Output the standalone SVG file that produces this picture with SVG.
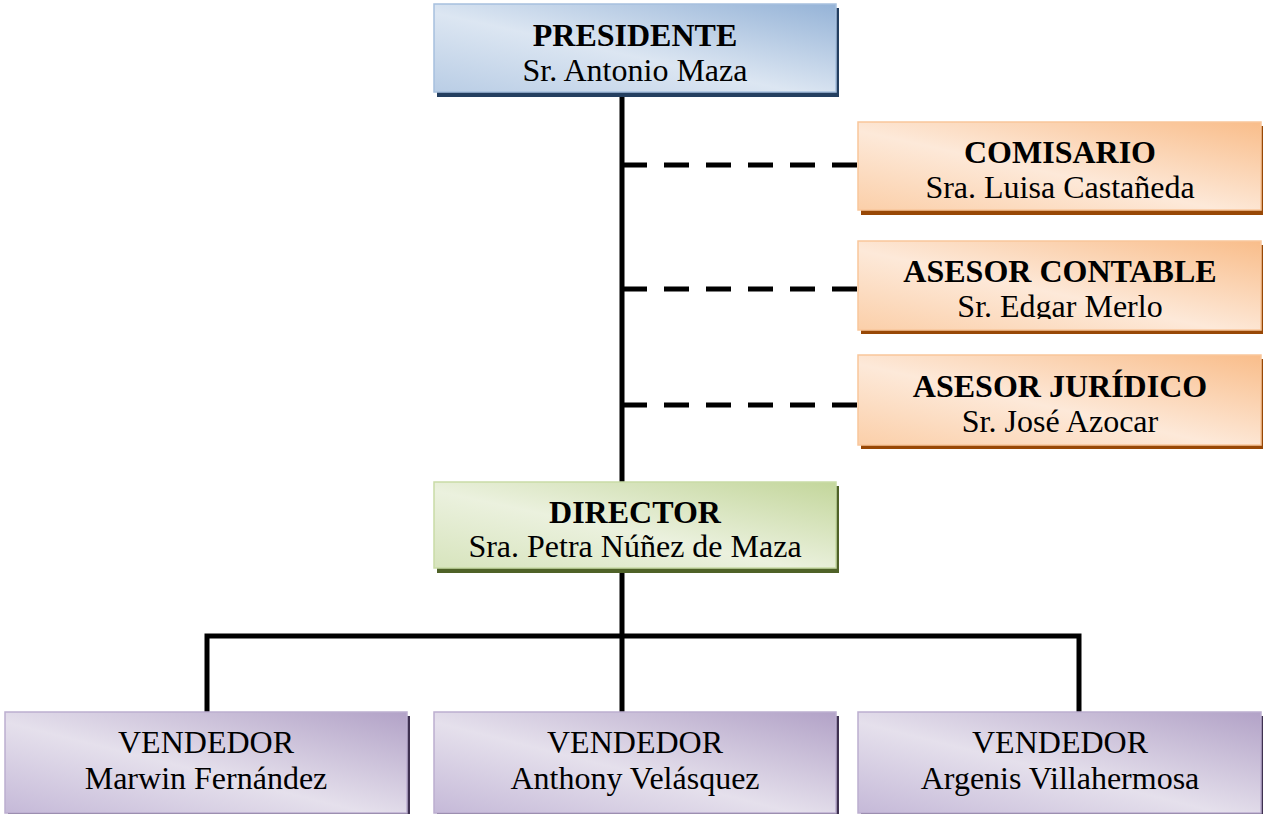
<svg xmlns="http://www.w3.org/2000/svg" width="1263" height="814" viewBox="0 0 1263 814">
<defs>
<linearGradient id="gBlue" x1="0" y1="1" x2="1" y2="0">
<stop offset="0" stop-color="#b9cde5"/><stop offset="0.45" stop-color="#dce6f2"/><stop offset="1" stop-color="#95b3d7"/>
</linearGradient>
<linearGradient id="gOrange" x1="0" y1="1" x2="1" y2="0">
<stop offset="0" stop-color="#fbcfa9"/><stop offset="0.45" stop-color="#fde9d9"/><stop offset="1" stop-color="#f9bd8a"/>
</linearGradient>
<linearGradient id="gGreen" x1="0" y1="1" x2="1" y2="0">
<stop offset="0" stop-color="#d7e4bd"/><stop offset="0.45" stop-color="#ebf1de"/><stop offset="1" stop-color="#c3d69b"/>
</linearGradient>
<linearGradient id="gPurple" x1="0" y1="1" x2="1" y2="0">
<stop offset="0" stop-color="#c5b9d8"/><stop offset="0.45" stop-color="#e5e0ec"/><stop offset="1" stop-color="#b2a2c7"/>
</linearGradient>
<clipPath id="clipContable"><rect x="858" y="241" width="403" height="78"/></clipPath>
</defs>
<style>
text{font-family:"Liberation Serif","Times New Roman",serif;font-size:32px;text-anchor:middle;fill:#000}
.b{font-weight:bold}
.line{stroke:#000;stroke-width:5;fill:none}
.dash{stroke:#000;stroke-width:5;fill:none;stroke-dasharray:25 17}
.blue{fill:url(#gBlue);stroke:#a7c0de;stroke-width:1.5}
.orange{fill:url(#gOrange);stroke:#f9c69b;stroke-width:1.5}
.green{fill:url(#gGreen);stroke:#c9dba6;stroke-width:1.5}
.purple{fill:url(#gPurple);stroke:#bcaed0;stroke-width:1.5}
.sBlue{fill:#243f60}.sOrange{fill:#984806}.sGreen{fill:#4f6228}.sPurple{fill:#3f3151}
</style>
<g id="connectors">
<path class="line" d="M622 92V482"/>
<path class="dash" d="M622 165H858"/>
<path class="dash" d="M622 289H858"/>
<path class="dash" d="M622 405H858"/>
<path class="line" d="M622 568V712"/>
<path class="line" d="M207 712V636H1079V712"/>
</g>
<g id="presidente">
<rect class="sBlue" x="437" y="8" width="402" height="89"/>
<rect class="blue" x="434" y="4" width="402" height="88"/>
<text class="b" x="635" y="46">PRESIDENTE</text>
<text x="635" y="81">Sr. Antonio Maza</text>
</g>
<g id="comisario">
<rect class="sOrange" x="861" y="126" width="402" height="89"/>
<rect class="orange" x="858" y="122" width="403" height="88"/>
<text class="b" x="1060" y="163">COMISARIO</text>
<text x="1060" y="198">Sra. Luisa Castañeda</text>
</g>
<g id="asesor-contable">
<rect class="sOrange" x="861" y="245" width="402" height="89"/>
<rect class="orange" x="858" y="241" width="403" height="89"/>
<text class="b" x="1060" y="282">ASESOR CONTABLE</text>
<text x="1060" y="317" clip-path="url(#clipContable)">Sr. Edgar Merlo</text>
</g>
<g id="asesor-juridico">
<rect class="sOrange" x="861" y="359" width="402" height="90"/>
<rect class="orange" x="858" y="355" width="403" height="90"/>
<text class="b" x="1060" y="397">ASESOR JURÍDICO</text>
<text x="1060" y="432">Sr. José Azocar</text>
</g>
<g id="director">
<rect class="sGreen" x="437" y="486" width="402" height="87"/>
<rect class="green" x="434" y="482" width="402" height="86"/>
<text class="b" x="635" y="523">DIRECTOR</text>
<text x="635" y="557">Sra. Petra Núñez de Maza</text>
</g>
<g id="vendedor-1">
<rect class="sPurple" x="8" y="716" width="402" height="101"/>
<rect class="purple" x="5" y="712" width="402" height="101"/>
<text x="206" y="753">VENDEDOR</text>
<text x="206" y="789">Marwin Fernández</text>
</g>
<g id="vendedor-2">
<rect class="sPurple" x="437" y="716" width="402" height="101"/>
<rect class="purple" x="434" y="712" width="402" height="101"/>
<text x="635" y="753">VENDEDOR</text>
<text x="635" y="789">Anthony Velásquez</text>
</g>
<g id="vendedor-3">
<rect class="sPurple" x="861" y="716" width="402" height="101"/>
<rect class="purple" x="858" y="712" width="403" height="101"/>
<text x="1060" y="753">VENDEDOR</text>
<text x="1060" y="789">Argenis Villahermosa</text>
</g>
</svg>
